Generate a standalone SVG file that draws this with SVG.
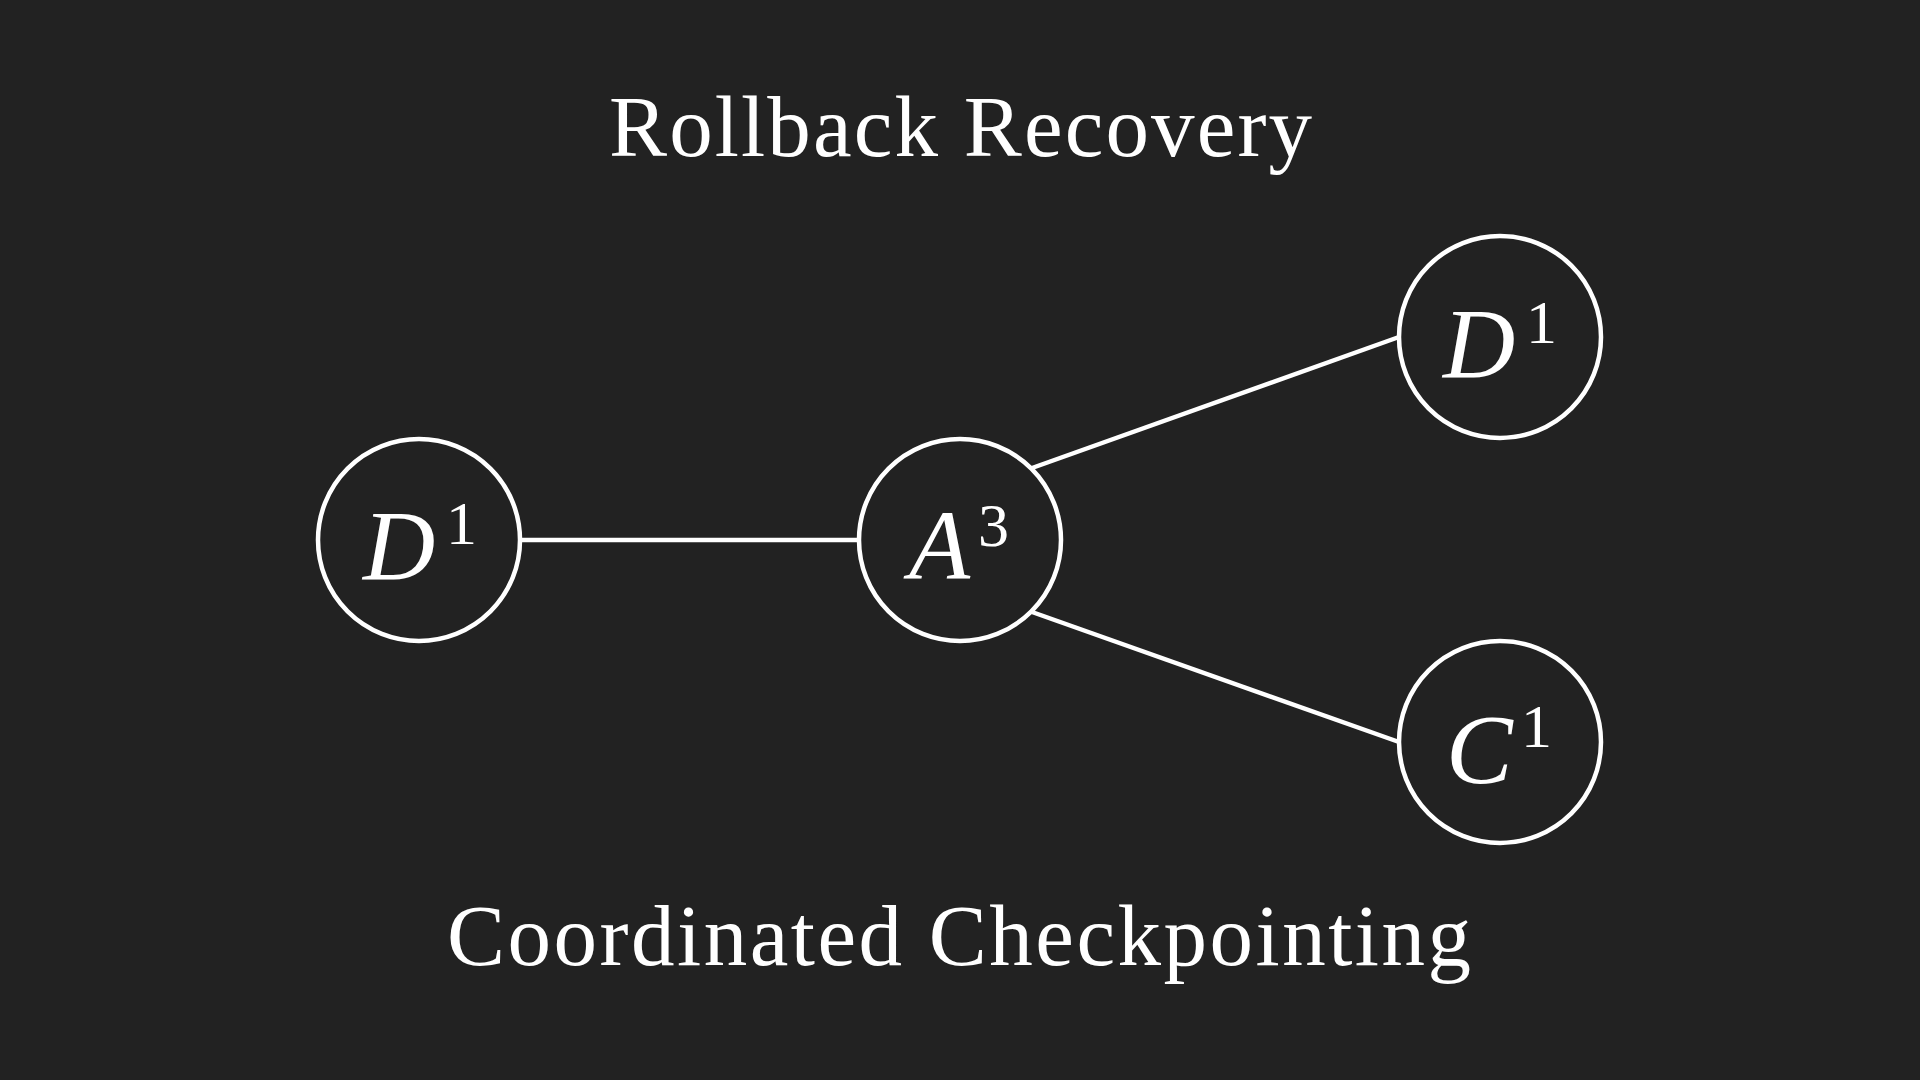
<svg xmlns="http://www.w3.org/2000/svg" width="1920" height="1080" viewBox="0 0 1920 1080">
<style>
.bg{fill:#222222}
.node{fill:none;stroke:#ffffff;stroke-width:4.5}
.edge{stroke:#ffffff;stroke-width:4.5;fill:none}
.title{fill:#ffffff;font-family:"Liberation Serif","DejaVu Serif",serif;font-size:87px}
.var{fill:#ffffff;font-family:"Liberation Serif","DejaVu Serif",serif;font-style:italic;font-size:100px}
.sup{fill:#ffffff;font-family:"Liberation Serif","DejaVu Serif",serif;font-size:62px}
</style>
<rect class="bg" x="0" y="0" width="1920" height="1080"/>
<text class="title" x="609" y="156" textLength="703">Rollback Recovery</text>
<text class="title" x="447" y="965" textLength="1024">Coordinated Checkpointing</text>
<g id="connectors">
<line class="edge" x1="521" y1="540" x2="858" y2="540"/>
<line class="edge" x1="1032" y1="468" x2="1399" y2="337"/>
<line class="edge" x1="1032" y1="612" x2="1399" y2="742"/>
</g>
<g id="node-d1-left">
<circle class="node" cx="419" cy="540" r="101"/>
<text class="var" x="363" y="579">D</text>
<text class="sup" x="446" y="544">1</text>
</g>
<g id="node-a3">
<circle class="node" cx="960" cy="540" r="101"/>
<text class="var" x="909" y="579">A</text>
<text class="sup" x="978" y="546">3</text>
</g>
<g id="node-d1-right">
<circle class="node" cx="1500" cy="337" r="101"/>
<text class="var" x="1443" y="377">D</text>
<text class="sup" x="1526" y="343">1</text>
</g>
<g id="node-c1">
<circle class="node" cx="1500" cy="742" r="101"/>
<text class="var" x="1446" y="783">C</text>
<text class="sup" x="1521" y="747">1</text>
</g>
</svg>
